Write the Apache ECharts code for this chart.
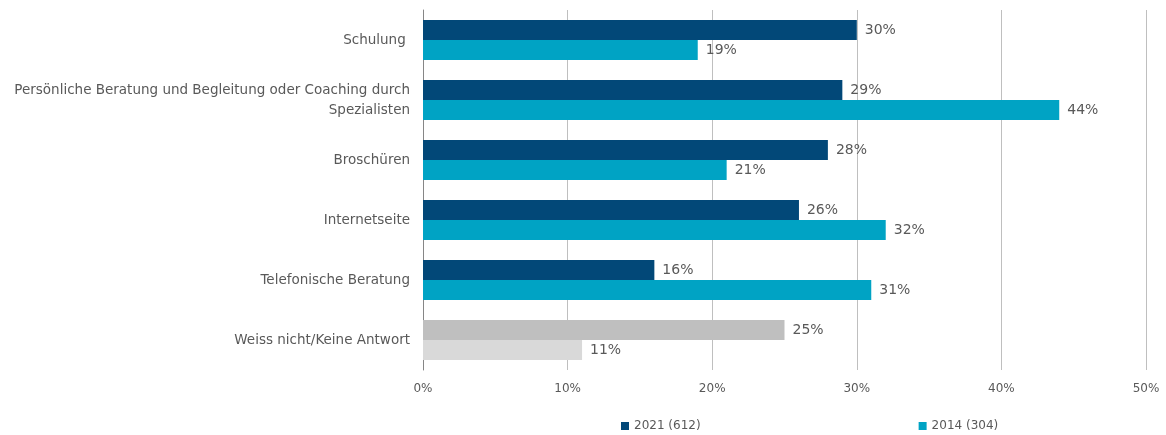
<!DOCTYPE html>
<html><head><meta charset="utf-8">
<script src="https://cdn.jsdelivr.net/npm/echarts@6/dist/echarts.min.js"></script>
<style>html,body{margin:0;padding:0;background:#fff}#c{width:1166px;height:435px}</style>
</head><body><div id="c"></div>
<script>
const categories = ["Schulung ", "Persönliche Beratung und Begleitung oder Coaching durch\nSpezialisten", "Broschüren", "Internetseite", "Telefonische Beratung", "Weiss nicht/Keine Antwort"];
const values2021 = [30, 29, 28, 26, 16, 25];
const values2014 = [19, 44, 21, 32, 31, 11];
const seriesNames = ["2021 (612)", "2014 (304)"];
const xTicks = [0, 10, 20, 30, 40, 50];

const c2021 = '#024878', c2014 = '#00a3c4';
const g2021 = '#bfbfbf', g2014 = '#d9d9d9';
function mk(vals, col, gcol) {
  return vals.map((v, i) => i === vals.length - 1 ? {value: v, itemStyle: {color: gcol}} : v);
}
const chart = echarts.init(document.getElementById('c'));
const labelStyle = {show: true, position: 'right', distance: 8, formatter: p => p.value + '%', color: '#595959', fontSize: 14, fontFamily: 'DejaVu Sans'};
chart.setOption({
  animation: false,
  grid: {left: 423, right: 20, top: 10, bottom: 65, containLabel: false},
  legend: {
    top: 415, left: 616, itemWidth: 8, itemHeight: 8, itemGap: 218, icon: 'rect',
    textStyle: {color: '#595959', fontSize: 12, fontFamily: 'DejaVu Sans'},
    data: seriesNames
  },
  xAxis: {
    type: 'value', min: xTicks[0], max: xTicks[xTicks.length - 1], interval: 10,
    axisLabel: {formatter: v => v + '%', color: '#595959', fontSize: 12, fontFamily: 'DejaVu Sans', margin: 13},
    splitLine: {lineStyle: {color: '#bfbfbf', width: 1}},
    axisLine: {show: false}, axisTick: {show: false}
  },
  yAxis: {
    type: 'category', inverse: true, data: categories,
    axisLine: {show: true, lineStyle: {color: '#868686'}},
    axisTick: {show: false},
    axisLabel: {color: '#595959', fontSize: 13.5, fontFamily: 'DejaVu Sans', margin: 13, lineHeight: 20, align: 'right'}
  },
  series: [
    {name: seriesNames[0], type: 'bar', data: mk(values2021, c2021, g2021), itemStyle: {color: c2021}, barGap: '0%', barCategoryGap: '33.3%', label: labelStyle},
    {name: seriesNames[1], type: 'bar', data: mk(values2014, c2014, g2014), itemStyle: {color: c2014}, barGap: '0%', barCategoryGap: '33.3%', label: labelStyle}
  ]
});
</script></body></html>
